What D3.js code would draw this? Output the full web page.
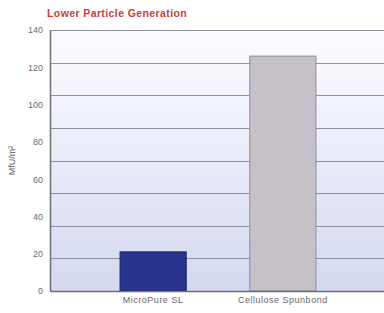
<!DOCTYPE html>
<html>
<head>
<meta charset="utf-8">
<script src="https://cdn.jsdelivr.net/npm/d3@7"></script>
<style>
  html, body { margin: 0; padding: 0; background: #fff; }
  svg { display: block; font-family: "Liberation Sans", Arial, sans-serif; }
</style>
</head>
<body>
<svg id="chart" width="384" height="313"></svg>
<script>
const categories = ["MicroPure SL", "Cellulose Spunbond"];
const values = [21, 126];
const tickValues = [0, 20, 40, 60, 80, 100, 120, 140];
const gridValues = [17.5, 35, 52.5, 70, 87.5, 105, 122.5, 140];
const title = "Lower Particle Generation";
const yLabel = "MfU/m²";

const width = 384, height = 313;
const margin = { top: 30, right: -2, bottom: 22, left: 50 };

const svg = d3.select("#chart");

const x = d3.scaleBand()
  .domain(categories)
  .range([margin.left, width - margin.right])
  .paddingInner(0.49)
  .paddingOuter(0.54);

const y = d3.scaleLinear()
  .domain([0, 140])
  .range([height - margin.bottom, margin.top]);

// background gradient
const defs = svg.append("defs");
const grad = defs.append("linearGradient")
  .attr("id", "bg")
  .attr("x1", "0%").attr("y1", "0%")
  .attr("x2", "0%").attr("y2", "100%");
grad.append("stop").attr("offset", "0%").attr("stop-color", "#fdfdff");
grad.append("stop").attr("offset", "100%").attr("stop-color", "#d4d8f0");

svg.append("rect")
  .attr("x", margin.left)
  .attr("y", y(140))
  .attr("width", width - margin.right - margin.left)
  .attr("height", y(0) - y(140))
  .attr("fill", "url(#bg)");

// gridlines
svg.append("g")
  .selectAll("line")
  .data(gridValues)
  .join("line")
  .attr("x1", margin.left)
  .attr("x2", width - margin.right)
  .attr("y1", d => Math.round(y(d)) + 0.5)
  .attr("y2", d => Math.round(y(d)) + 0.5)
  .attr("stroke", "#8e909e")
  .attr("stroke-width", 1);

// bars
const colors = ["#27338c", "#c6c0c9"];
const strokes = ["#1b2160", "#8d8d9a"];
svg.append("g")
  .selectAll("rect")
  .data(values)
  .join("rect")
  .attr("x", (d, i) => x(categories[i]))
  .attr("y", d => y(d))
  .attr("width", x.bandwidth())
  .attr("height", d => y(0) - y(d))
  .attr("fill", (d, i) => colors[i])
  .attr("stroke", (d, i) => strokes[i])
  .attr("stroke-width", 1);

// y axis
const yAxis = svg.append("g")
  .attr("transform", `translate(${margin.left},0)`)
  .call(d3.axisLeft(y).tickValues(tickValues).tickSize(0).tickPadding(7));
yAxis.select(".domain").attr("stroke", "#6e6e78").attr("stroke-width", 1.5);
yAxis.selectAll("text")
  .attr("fill", "#6a6a6a")
  .attr("font-size", 9);

// x axis
const xAxis = svg.append("g")
  .attr("transform", `translate(0,${y(0)})`)
  .call(d3.axisBottom(x).tickSize(0).tickPadding(6));
xAxis.select(".domain").attr("stroke", "#6e6e78").attr("stroke-width", 1.5);
xAxis.selectAll("text")
  .attr("fill", "#666")
  .attr("font-size", 9)
  .attr("letter-spacing", 0.5);

// y label
svg.append("text")
  .attr("transform", `translate(15,${(y(60) + y(80)) / 2}) rotate(-90)`)
  .attr("text-anchor", "middle")
  .attr("fill", "#666")
  .attr("font-size", 9)
  .text(yLabel);

// title
svg.append("text")
  .attr("x", 47)
  .attr("y", 17)
  .attr("fill", "#c8403a")
  .attr("font-size", 10.5)
  .attr("font-weight", "bold")
  .attr("letter-spacing", 0.4)
  .text(title);
</script>
</body>
</html>
